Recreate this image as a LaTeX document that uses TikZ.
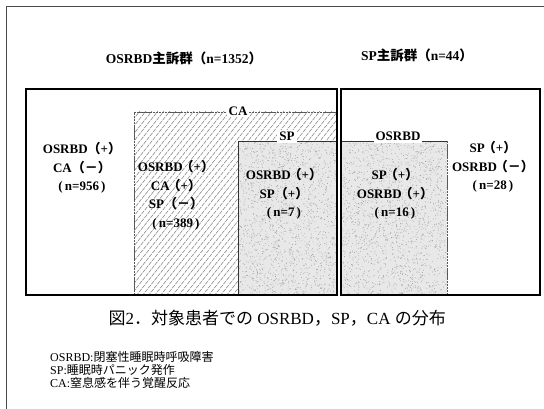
\documentclass[tikz,border=0pt]{standalone}
\usepackage{fontspec}
\setmainfont{Liberation Serif}
\newfontfamily\jp{Noto Sans CJK JP}
\newcommand{\pl}{\kern-2pt{\jp （}+{\jp ）}}
\newcommand{\mi}{\kern-2pt{\jp （－）}}
\newcommand{\spl}{{\jp （}+{\jp ）}}
\newcommand{\smi}{{\jp （－）}}
\begin{document}
\begin{tikzpicture}[x=1pt,y=-1pt,
  outerbox/.style={draw=black,line width=1.1pt},
  regionline/.style={draw=black!80,line width=0.6pt},
  faintline/.style={draw=black!65,line width=0.55pt,dash pattern=on 2.5pt off 0.6pt},
  hatchline/.style={draw=black!60,line width=0.4pt,dash pattern=on 4pt off 1pt},
  stipple/.style={fill=black!9},
  boxtxt/.style={font=\bfseries\fontsize{13}{18.5}\selectfont,align=center,inner sep=0pt},
  lbl/.style={font=\bfseries\fontsize{13}{15}\selectfont,fill=white,inner sep=2pt},
  ttl/.style={font=\bfseries\fontsize{13.5}{15}\selectfont,inner sep=0pt},
  captiontxt/.style={font=\fontsize{17}{20}\selectfont,inner sep=0pt},
  legendtxt/.style={font=\fontsize{12}{13}\selectfont,align=left,inner sep=0pt}]
\useasboundingbox (0,0) rectangle (544,409);
% outer frame (left and top only)
\draw[black!70,line width=1pt] (6,409) -- (6,7) -- (544,7);
% CA hatched region
\begin{scope}
\clip (134,112) rectangle (337,295);
\foreach \x in {-20,-14,...,340} \draw[hatchline] (\x,296) -- ++(150,-187.5);
\end{scope}
% stippled regions
\fill[stipple] (238,141) rectangle (337,295);
\fill[stipple] (341,141) rectangle (447,295);
\pgfmathsetseed{7}
\foreach \k in {1,...,1700}{%
  \pgfmathsetmacro\rx{238+rnd*99}\pgfmathsetmacro\ry{141+rnd*154}%
  \fill[black!40] (\rx,\ry) circle (0.42);}
\foreach \k in {1,...,1800}{%
  \pgfmathsetmacro\rx{341+rnd*106}\pgfmathsetmacro\ry{141+rnd*154}%
  \fill[black!40] (\rx,\ry) circle (0.42);}
% region borders
\draw[faintline] (134,295) -- (134,112) -- (337,112);
\draw[regionline] (238,295) -- (238,141) -- (337,141);
\draw[regionline] (341,141) -- (447,141);
\draw[faintline] (447,141) -- (447,295);
% main boxes
\draw[outerbox] (26,89) rectangle (337,295);
\draw[outerbox] (341,89) rectangle (540,295);
% region labels
\node[lbl] (calbl) at (238,111) {CA};
\node[lbl,anchor=base] (splbl) at (287,140.5) {SP};
\node[lbl,anchor=base] (osrbdlbl) at (398,140.5) {OSRBD};
% titles
\node[ttl] (t1) at (184,58) {OSRBD{\jp 主訴群（}n=1352{\jp ）}};
\node[ttl] (t2) at (417,55) {SP{\jp 主訴群（}n=44{\jp ）}};
% box texts
\node[boxtxt] (ta) at (82,168) {OSRBD\spl\\CA\smi\\(\,n=956\,)};
\node[boxtxt] (tb) at (176,195.5) {OSRBD\pl\\CA\pl\\SP\smi\\(\,n=389\,)};
\node[boxtxt] (tc) at (284,194) {OSRBD\pl\\SP\spl\\(\,n=7\,)};
\node[boxtxt] (td) at (395,194) {SP\pl\\OSRBD\pl\\(\,n=16\,)};
\node[boxtxt] (te) at (493,167) {SP\pl\\OSRBD\mi\\(\,n=28\,)};
% caption
\node[captiontxt,anchor=east] (caption) at (446,318) {{\jp 図}2{\jp ．対象患者での} OSRBD{\jp ，}SP{\jp ，}CA {\jp の分布}};
% legend
\node[legendtxt,anchor=north west] (leg) at (50,351) {OSRBD:{\jp 閉塞性睡眠時呼吸障害}\\SP:{\jp 睡眠時パニック発作}\\CA:{\jp 窒息感を伴う覚醒反応}};
\end{tikzpicture}
\end{document}
